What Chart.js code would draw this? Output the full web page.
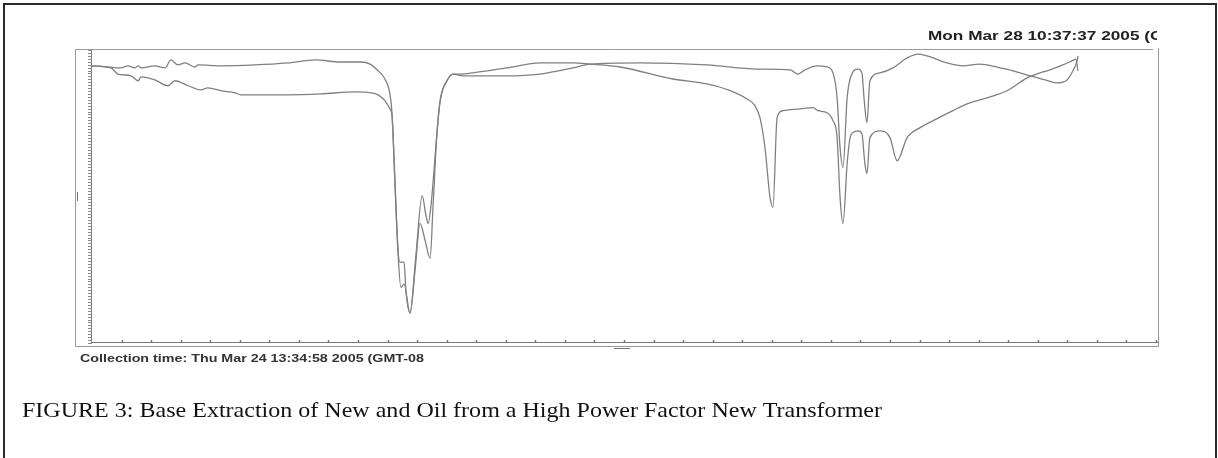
<!DOCTYPE html>
<html>
<head>
<meta charset="utf-8">
<script src="https://cdn.jsdelivr.net/npm/chart.js@4.4.1/dist/chart.umd.min.js"></script>
<style>
  html, body { margin: 0; padding: 0; background: #fff; }
  #wrap { width: 1218px; height: 458px; }
</style>
</head>
<body>
<div id="wrap"><canvas id="c" width="1218" height="458"></canvas></div>
<script>
// ---- spectrum data (wavenumber cm-1 / %T) ----
const newWn = [4000, 3946, 3902, 3878, 3855, 3844, 3834, 3787, 3753, 3733, 3709, 3685, 3652, 3641,
  3564, 3449, 3337, 3245, 3158, 3090, 3059, 3032, 3009, 2992, 2985, 2975, 2965, 2958, 2944, 2938,
  2924, 2904, 2883, 2870, 2863, 2853, 2833, 2822, 2799, 2779, 2745, 2711, 2596, 2484, 2372, 2315,
  2146, 1919, 1750, 1638, 1611, 1588, 1547, 1513, 1493, 1479, 1469, 1459, 1445, 1429, 1408, 1395,
  1388, 1378, 1368, 1334, 1290, 1242, 1205, 1175, 1107, 1053, 996, 928, 884, 826, 765, 735, 701,
  681, 667, 664];
const newT = [94.6, 94.2, 93.9, 94.6, 93.9, 94.6, 93.9, 94.6, 93.9, 96.6, 94.9, 95.6, 94.2, 94.9,
  94.6, 94.9, 95.6, 96.6, 95.9, 95.9, 95.2, 92.9, 90.1, 85.0, 78.6, 55.4, 32.3, 27.6, 27.6, 18.0,
  10.2, 29.9, 50.3, 43.5, 40.8, 46.9, 71.4, 82.7, 89.5, 91.8, 91.2, 91.2, 91.2, 91.8, 93.9, 95.2,
  95.6, 94.9, 93.5, 93.2, 91.8, 93.2, 94.6, 94.2, 92.2, 83.7, 66.7, 59.9, 83.7, 91.8, 93.5, 92.2,
  83.7, 75.2, 89.5, 92.2, 93.9, 97.3, 98.6, 98.0, 95.6, 94.6, 95.2, 93.9, 92.9, 91.2, 89.5, 88.8, 89.8,
  92.9, 96.3, 98.0];

const oilWn = [4000, 3936, 3912, 3868, 3844, 3834, 3787, 3743, 3719, 3675, 3631, 3608, 3564, 3516,
  3496, 3449, 3337, 3225, 3110, 3056, 3032, 3009, 2992, 2985, 2975, 2965, 2955, 2944, 2924, 2907,
  2890, 2873, 2856, 2846, 2833, 2822, 2799, 2779, 2755, 2711, 2596, 2484, 2372, 2315, 2213, 2034,
  1919, 1841, 1784, 1757, 1740, 1723, 1706, 1696, 1682, 1662, 1604, 1560, 1544, 1513, 1493, 1479,
  1469, 1459, 1445, 1435, 1425, 1408, 1395, 1385, 1378, 1368, 1334, 1300, 1276, 1242, 1198, 1154,
  1087, 1039, 972, 904, 836, 792, 759, 715, 684, 671, 664];
const oilT = [94.6, 93.9, 91.8, 91.2, 89.5, 90.8, 89.8, 87.8, 89.5, 87.8, 86.4, 87.1, 86.1, 85.4,
  84.7, 84.7, 84.7, 85.0, 85.7, 85.4, 84.7, 82.7, 79.9, 77.6, 54.4, 31.6, 19.0, 20.1, 10.2, 24.8,
  40.8, 35.0, 28.9, 46.9, 71.4, 82.7, 89.5, 91.8, 91.8, 92.2, 93.9, 95.6, 95.6, 95.2, 94.2, 90.1,
  88.4, 86.1, 83.3, 81.0, 76.9, 66.7, 49.7, 46.3, 76.9, 79.3, 79.9, 80.3, 79.3, 78.6, 75.9, 70.1,
  49.7, 40.8, 61.2, 70.1, 71.8, 72.4, 71.4, 61.2, 57.8, 70.1, 72.4, 70.1, 62.2, 70.1, 73.5, 75.9,
  79.3, 81.6, 83.7, 86.1, 90.5, 92.2, 93.2, 94.9, 96.3, 96.9, 92.9];

const WN_MAX = 4000, WN_MIN = 400, WN_STEP = 100;
const T_MIN = 0, T_MAX = 100, T_STEP = 1;

const headerText = "Mon Mar 28 10:37:37 2005 (GMT-08:00)";
const footerText = "Collection time: Thu Mar 24 13:34:58 2005 (GMT-08:00)";
const captionText = "FIGURE 3: Base Extraction of New and Oil from a High Power Factor New Transformer";

const toPts = (xs, ys) => xs.map((x, i) => ({ x: x, y: ys[i] }));

// draw a string starting at x, squeezed/stretched so `fitPart` spans fitW, clipped at clipX
function fitText(ctx, str, fitPart, x, y, fitW, clipX) {
  const w = ctx.measureText(fitPart).width;
  ctx.save();
  if (clipX) {
    ctx.beginPath();
    ctx.rect(0, 0, clipX, 458);
    ctx.clip();
  }
  ctx.translate(x, y);
  ctx.scale(fitW / w, 1);
  ctx.fillText(str, 0, 0);
  ctx.restore();
}

const framePlugin = {
  id: "frame",
  beforeDraw(chart) {
    const ctx = chart.ctx;
    ctx.save();
    ctx.fillStyle = "#fff";
    ctx.fillRect(0, 0, chart.width, chart.height);
    ctx.restore();
  },
  afterDraw(chart) {
    const ctx = chart.ctx;
    const xs = chart.scales.x, ys = chart.scales.y;
    const a = chart.chartArea;
    ctx.save();

    // outer figure border
    ctx.strokeStyle = "#2a2a2a";
    ctx.lineWidth = 2;
    ctx.strokeRect(4, 4, 1212, 470);

    // plot box
    ctx.strokeStyle = "#9a9a9a";
    ctx.lineWidth = 1;
    ctx.beginPath();
    ctx.moveTo(75.5, 49.5); ctx.lineTo(1153, 49.5);
    ctx.moveTo(75.5, 49.5); ctx.lineTo(75.5, 346.5);
    ctx.moveTo(1158.5, 48); ctx.lineTo(1158.5, 346.5);
    ctx.moveTo(75, 346.5); ctx.lineTo(1159, 346.5);
    ctx.stroke();

    ctx.strokeStyle = "#777";
    ctx.beginPath();
    ctx.moveTo(a.left - 0.5, a.top); ctx.lineTo(a.left - 0.5, a.bottom);
    ctx.moveTo(a.left - 1, a.bottom - 0.5); ctx.lineTo(1158, a.bottom - 0.5);
    ctx.stroke();

    // y tick marks (dense)
    ctx.strokeStyle = "#888";
    ctx.beginPath();
    for (let v = T_MIN; v <= T_MAX; v += T_STEP) {
      const py = Math.round(ys.getPixelForValue(v)) + 0.5;
      ctx.moveTo(a.left - 4, py); ctx.lineTo(a.left, py);
    }
    ctx.stroke();

    // x tick marks
    ctx.strokeStyle = "#777";
    ctx.lineWidth = 1.5;
    ctx.beginPath();
    for (let v = WN_MAX - WN_STEP; v >= WN_MIN; v -= WN_STEP) {
      const px = Math.round(xs.getPixelForValue(v)) + 0.5;
      ctx.moveTo(px, a.bottom); ctx.lineTo(px, a.bottom - 3);
    }
    ctx.stroke();

    // small cursor marks
    ctx.lineWidth = 1;
    ctx.beginPath();
    ctx.moveTo(614, 348.5); ctx.lineTo(630, 348.5);
    ctx.moveTo(77.5, 192); ctx.lineTo(77.5, 201);
    ctx.stroke();

    // header / footer text
    ctx.fillStyle = "#222";
    ctx.textBaseline = "alphabetic";
    ctx.font = "bold 12px 'Liberation Sans', Arial, sans-serif";
    fitText(ctx, headerText, "Mon Mar 28 10:37:37 2005 (", 928, 40, 222, 1157);
    ctx.fillStyle = "#333";
    ctx.font = "bold 11px 'Liberation Sans', Arial, sans-serif";
    fitText(ctx, footerText, "Collection time: Thu Mar 24 13:34:58 2005 (GMT-0", 80, 362, 336, 425);

    // caption
    ctx.fillStyle = "#111";
    ctx.font = "22px 'Liberation Serif', 'Times New Roman', serif";
    fitText(ctx, captionText, captionText, 22, 417, 860, 0);

    ctx.restore();
  }
};

new Chart(document.getElementById("c"), {
  type: "line",
  data: {
    datasets: [
      { label: "New", data: toPts(newWn, newT) },
      { label: "Oil", data: toPts(oilWn, oilT) }
    ]
  },
  options: {
    responsive: false,
    animation: false,
    layout: { padding: { left: 92, right: 62, top: 50, bottom: 115 } },
    elements: {
      line: { borderColor: "#808080", borderWidth: 1.3, cubicInterpolationMode: "monotone", fill: false },
      point: { radius: 0 }
    },
    scales: {
      x: { type: "linear", reverse: true, min: WN_MIN, max: WN_MAX, display: false },
      y: { type: "linear", min: T_MIN, max: T_MAX, display: false }
    },
    plugins: { legend: { display: false }, tooltip: { enabled: false } }
  },
  plugins: [framePlugin]
});
</script>
</body>
</html>
